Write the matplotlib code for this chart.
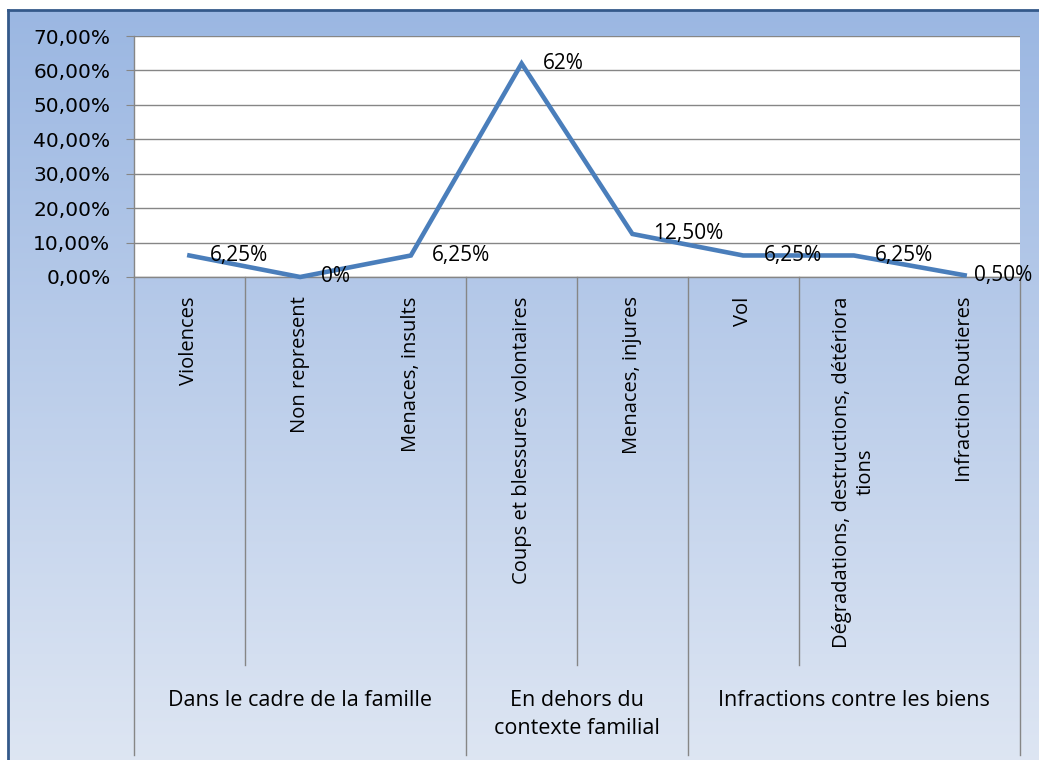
import numpy as np
import matplotlib
matplotlib.use("Agg")
import matplotlib.pyplot as plt
from matplotlib.transforms import blended_transform_factory

# values in percent
categories = ["Violences", "Non represent", "Menaces, insults",
              "Coups et blessures volontaires", "Menaces, injures", "Vol",
              "Dégradations, destructions, détériora\ntions", "Infraction Routieres"]
values = [6.25, 0, 6.25, 62, 12.5, 6.25, 6.25, 0.5]
value_labels = ["6,25%", "0%", "6,25%", "62%", "12,50%", "6,25%", "6,25%", "0,50%"]
groups = ["Dans le cadre de la famille", "En dehors du\ncontexte familial",
          "Infractions contre les biens"]
group_sizes = [3, 2, 3]
yticks = [0, 10, 20, 30, 40, 50, 60, 70]

W, H = 1039, 760
fig = plt.figure(figsize=(W / 100, H / 100), dpi=100)
fig.patch.set_facecolor("white")

# gradient background of the chart area, with a dark blue frame
bg = fig.add_axes([8 / W, -0.01, 1 - 8 / W + 0.01, 1 - 10 / H + 0.01], zorder=0)
grad = np.linspace(0, 1, 256).reshape(-1, 1)
top = np.array([155, 183, 226]) / 255
bot = np.array([222, 230, 243]) / 255
img = top + (bot - top) * grad[:, :, None] * np.ones((1, 1, 3))
bg.imshow(img, aspect="auto", extent=[0, 1, 0, 1])
bg.set_xticks([])
bg.set_yticks([])
for s in ["right", "bottom"]:
    bg.spines[s].set_visible(False)
for s in ["left", "top"]:
    bg.spines[s].set_color("#34598a")
    bg.spines[s].set_linewidth(2)

ax = fig.add_axes([134 / W, (H - 277) / H, (1020 - 134) / W, (277 - 36) / H], zorder=1)
ax.set_facecolor("white")
x = np.arange(len(values))
ax.plot(x, values, color="#4a7ebb", lw=3.3, solid_joinstyle="miter", clip_on=False, zorder=3)
offsets = [15, 15, 15, 15, 15, 15, 15, 7]
for xi, v, lab, off in zip(x, values, value_labels, offsets):
    ax.annotate(lab, (xi, v), xytext=(off, 0), textcoords="offset points",
                ha="left", va="center", fontsize=15, family="Open Sans",
                color="black", annotation_clip=False, zorder=4)

ax.set_xlim(-0.5, len(values) - 0.5)
ax.set_ylim(0, 70)
ax.set_yticks(yticks)
ax.set_yticklabels([f"{t:.2f}".replace(".", ",") + "%" for t in yticks])
ax.tick_params(axis="y", length=6, color="#868686", pad=11, labelsize=14.5)
ax.tick_params(axis="x", length=0, labelbottom=False)
ax.grid(axis="y", color="#868686", lw=1)
ax.set_axisbelow(True)
for s in ["top", "right"]:
    ax.spines[s].set_visible(False)
for s in ["left", "bottom"]:
    ax.spines[s].set_color("#868686")
    ax.spines[s].set_linewidth(1)

tr = blended_transform_factory(ax.transData, ax.transAxes)
short_y = (277 - 665) / 241
long_y = (277 - 755) / 241

# category labels
for xi, c in zip(x, categories):
    ax.text(xi, -0.08, c, transform=tr, rotation=90, ha="center", va="top",
            multialignment="center", fontsize=14.5, family="Open Sans")

# separators between categories and groups
edges = np.concatenate([[0], np.cumsum(group_sizes)]) - 0.5
for e in edges:
    ax.plot([e, e], [0, long_y], transform=tr, color="#868686", lw=1, clip_on=False)
for start, n in zip(edges[:-1], group_sizes):
    b = start + 1
    ax.plot([b, b], [0, short_y], transform=tr, color="#868686", lw=1, clip_on=False)

# group labels
for start, n, g in zip(edges[:-1], group_sizes, groups):
    ax.text(start + n / 2, (277 - 690) / 241, g, transform=tr, ha="center", va="top",
            multialignment="center", fontsize=15.5, family="Open Sans", linespacing=1.45)

fig.savefig("out.png", dpi=100)
